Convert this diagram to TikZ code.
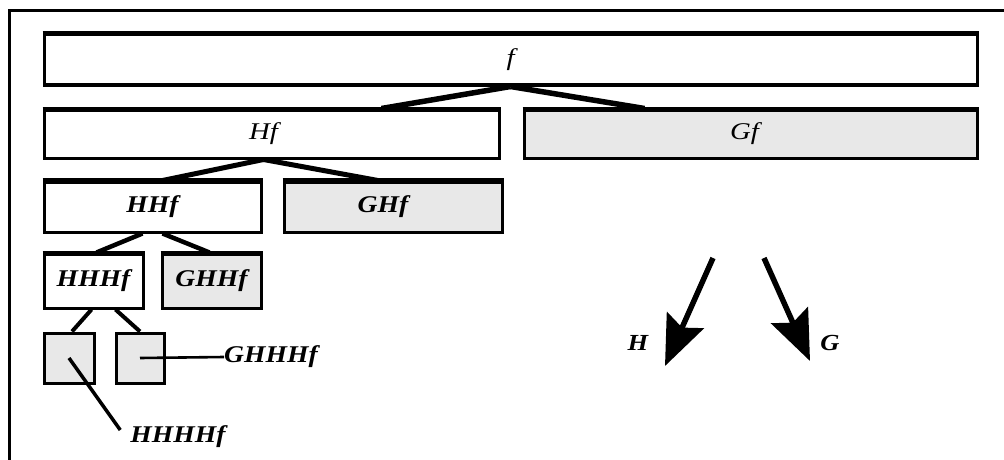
\documentclass[tikz,border=0pt]{standalone}
\usepackage{fontspec}
\setmainfont{Liberation Serif}
\usetikzlibrary{arrows.meta}
\newcommand{\lbl}[1]{\scalebox{1.15}[1]{\bfseries\itshape #1}}
\newcommand{\lblr}[1]{\scalebox{1.2}[1]{\itshape #1}}
\tikzset{
  cell/.style={draw=black, line width=3pt, rectangle, inner sep=0pt, font=\fontsize{24}{28}\selectfont},
  wcell/.style={cell, fill=white},
  gcell/.style={cell, fill=black!9},
  wedge/.style={line width=4.5pt, line cap=butt},
  thin/.style={line width=2.6pt},
  big/.style={-{Stealth[length=50pt,width=40pt,inset=8pt]}, line width=5.5pt},
  txt/.style={inner sep=0pt, font=\fontsize{24}{28}\selectfont},
  small/.style={inner sep=0pt, font=\fontsize{23}{26}\selectfont}
}
\begin{document}
\begin{tikzpicture}[x=1pt,y=-1pt]
\useasboundingbox (0,0) rectangle (1004,460);
\fill[white] (0,0) rectangle (1004,460);
% outer frame (only top and left visible)
\draw[line width=3pt] (9,460) -- (9,11) -- (1004,11);

\node[wcell, minimum width=933pt, minimum height=50pt] (f) at (510.5,60) {\lblr{f}};
\node[wcell, minimum width=455pt, minimum height=48pt] (Hf) at (271.5,134) {\hspace*{-16pt}\lblr{Hf}};
\node[gcell, minimum width=453pt, minimum height=48pt] (Gf) at (750.5,134) {\hspace*{-12pt}\lblr{Gf}};
\node[wcell, minimum width=217pt, minimum height=50pt] (HHf) at (152.5,207) {\lbl{HHf}};
\node[gcell, minimum width=218pt, minimum height=50pt] (GHf) at (393,207) {\hspace*{-20pt}\lbl{GHf}};
\node[wcell, minimum width=99pt, minimum height=54pt] (HHHf) at (93.5,281) {\lbl{HHHf}};
\node[gcell, minimum width=99pt, minimum height=54pt] (GHHf) at (211.5,281) {\lbl{GHHf}};
\node[gcell, minimum width=50pt, minimum height=50pt] (b1) at (69,358) {};
\node[gcell, minimum width=48pt, minimum height=50pt] (b2) at (140,358) {};

% thicker top edges
\draw[line width=5pt] (f.north west) -- (f.north east);
\draw[line width=4pt] (Hf.north west) -- (Hf.north east);
\draw[line width=4pt] (Gf.north west) -- (Gf.north east);
\draw[line width=5pt] (HHf.north west) -- (HHf.north east);
\draw[line width=5pt] (GHf.north west) -- (GHf.north east);
\draw[line width=4pt] (HHHf.north west) -- (HHHf.north east);
\draw[line width=4pt] (GHHf.north west) -- (GHHf.north east);

% tree connectors
\draw[wedge, line width=5.5pt] (f.south) -- ([xshift=110pt]Hf.north);
\draw[wedge, line width=5.5pt] (f.south) -- ([xshift=-106pt]Gf.north);
\draw[wedge, line width=5pt] ([xshift=-8pt]Hf.south) -- ([xshift=10pt]HHf.north);
\draw[wedge, line width=5pt] ([xshift=-8pt]Hf.south) -- ([xshift=-15pt]GHf.north);
\draw[wedge] ([xshift=-10pt]HHf.south) -- ([xshift=3pt]HHHf.north);
\draw[wedge] ([xshift=10pt]HHf.south) -- ([xshift=-2pt]GHHf.north);
\draw[wedge, line width=4pt] ([xshift=-2pt]HHHf.south) -- ([xshift=3pt]b1.north);
\draw[wedge, line width=4pt] ([xshift=22pt]HHHf.south) -- (b2.north);

% leaf labels
\node[txt] (lG) at (271,357) {\lbl{GHHHf}};
\node[txt] (lH) at (178,437) {\lbl{HHHHf}};
\draw[thin] (b2.center) -- (lG.west);
\draw[thin, line width=3.5pt] (b1.center) -- ([xshift=-10pt,yshift=7pt]lH.west);

% legend arrows
\coordinate (a1s) at (713,258);
\coordinate (a1e) at (665,366);
\coordinate (a2s) at (764,258);
\coordinate (a2e) at (810,361);
\draw[big] (a1s) -- (a1e);
\draw[big] (a2s) -- (a2e);
\node[small] (lh) at (638,343) {\lbl{H}};
\node[small] (lg) at (830,343) {\lbl{G}};
\end{tikzpicture}
\end{document}
